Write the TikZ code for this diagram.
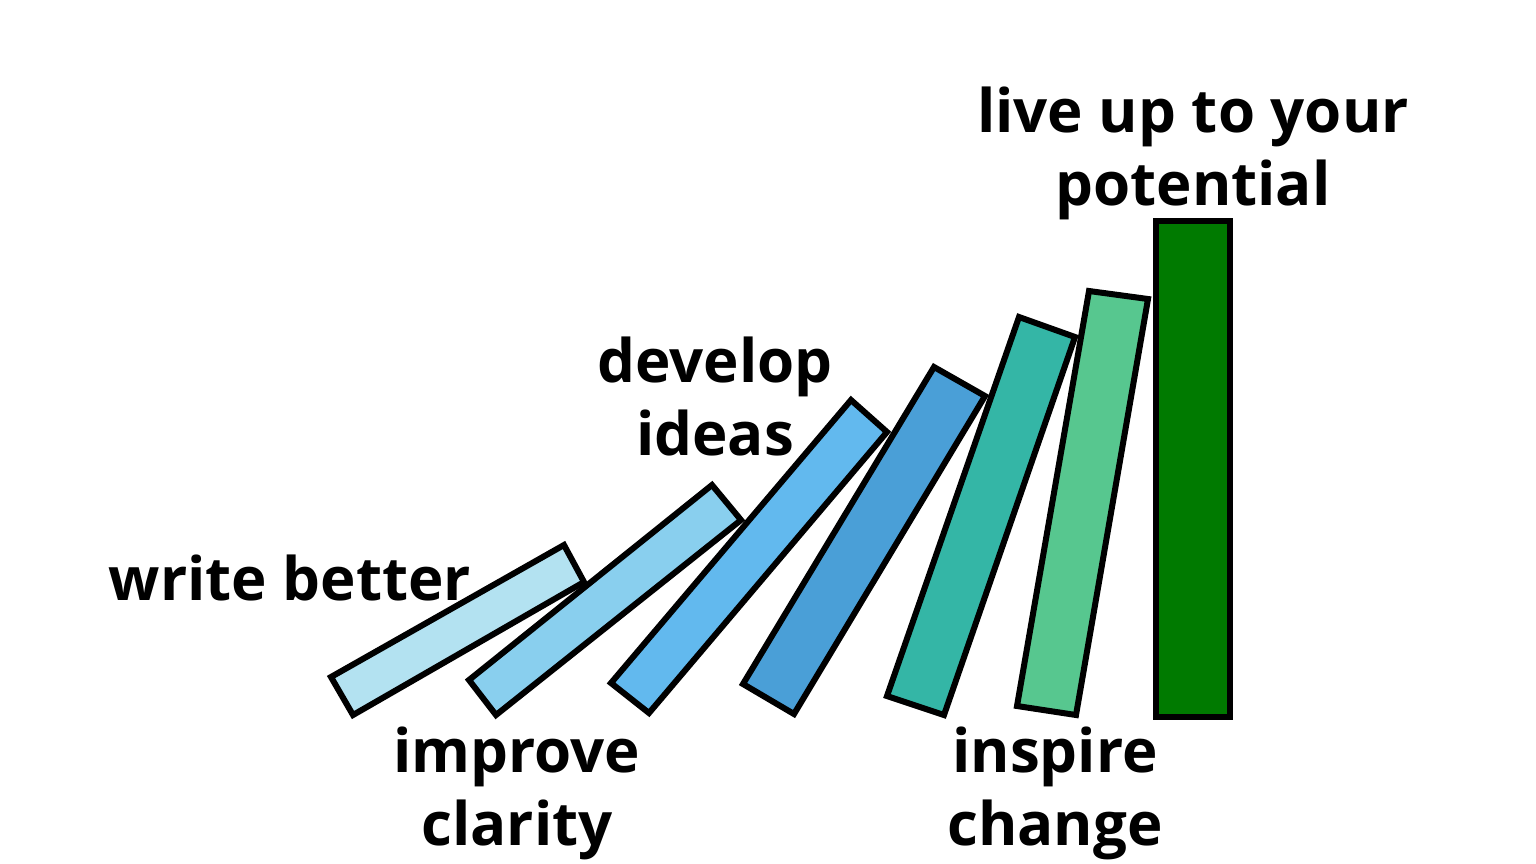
\documentclass[tikz,border=0pt]{standalone}
\usepackage{fontspec}
\setmainfont{Open Sans}
\definecolor{c1}{HTML}{B3E2F1}
\definecolor{c2}{HTML}{89CFEE}
\definecolor{c3}{HTML}{62B9EE}
\definecolor{c4}{HTML}{4A9FD7}
\definecolor{c5}{HTML}{34B6A6}
\definecolor{c6}{HTML}{57C78F}
\definecolor{c7}{HTML}{007A00}
\tikzset{
  domino/.style={draw=black, line width=6pt, line join=miter},
  lbl/.style={font=\bfseries\fontsize{60}{73}\selectfont, align=center, inner sep=0pt, anchor=base}
}
\begin{document}
\begin{tikzpicture}[x=1pt,y=-1pt]
\useasboundingbox (0,0) rectangle (1536,863);
\fill[white] (0,0) rectangle (1536,863);
\draw[domino, fill=c1] (331,677) -- (564,545) -- (584,582) -- (353,715) -- cycle;
\draw[domino, fill=c2] (469,680) -- (712,485) -- (741,520) -- (496,715) -- cycle;
\draw[domino, fill=c3] (611,683) -- (851,400) -- (887,432) -- (649,713) -- cycle;
\draw[domino, fill=c4] (743,684) -- (934,367) -- (985,396) -- (794,714) -- cycle;
\draw[domino, fill=c5] (887,696) -- (1019,317) -- (1075,337) -- (944,715) -- cycle;
\draw[domino, fill=c6] (1017,706) -- (1089,291) -- (1148,299) -- (1076,715) -- cycle;
\draw[domino, fill=c7] (1156,221) rectangle (1230,717);
\node[lbl] (wb) at (290,600) {write better};
\node[lbl] (di) at (715,455) {develop\\ideas};
\node[lbl] (ic) at (517,845) {improve\\clarity};
\node[lbl] (ch) at (1055,845) {inspire\\change};
\node[lbl] (lp) at (1193,205) {live up to your\\potential};
\end{tikzpicture}
\end{document}
